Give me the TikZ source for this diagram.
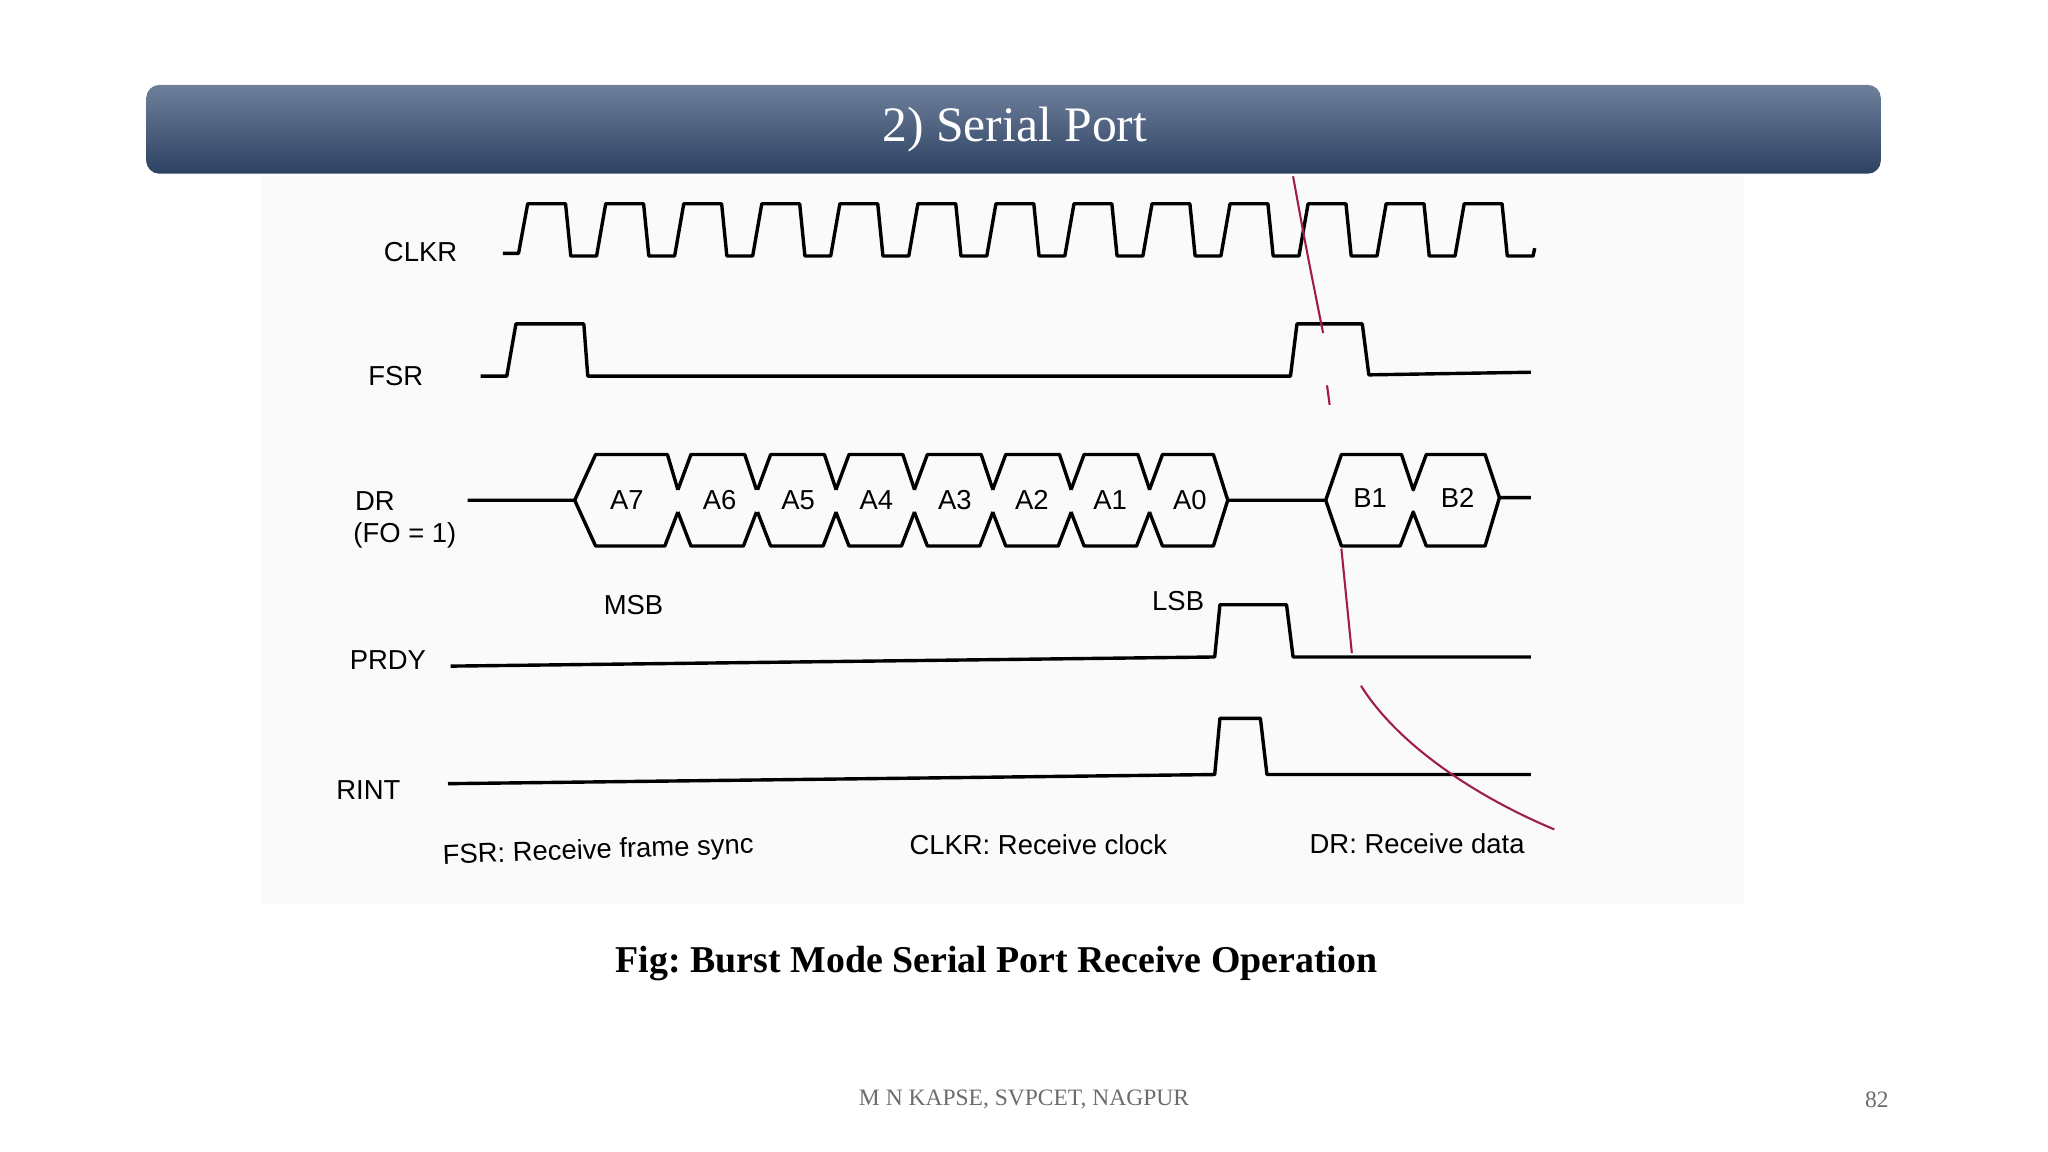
\documentclass[tikz,border=0pt]{standalone}
\usepackage{fontspec}
\setmainfont{Liberation Serif}
\setsansfont{Liberation Sans}
\frenchspacing
\begin{document}
\begin{tikzpicture}[x=0.5pt,y=-0.5pt,
  sig/.style={line width=1.3pt,line join=round},
  lab/.style={font=\sffamily\fontsize{10.5}{12}\selectfont},
  redline/.style={draw={rgb,255:red,160;green,30;blue,70},line width=0.8pt}]
\useasboundingbox (0,0) rectangle (1568,882);
\fill[white] (0,0) rectangle (1568,882);
\fill[gray!4] (200,135) rectangle (1335,692);
% title bar
\shade[top color={rgb,255:red,110;green,128;blue,155},bottom color={rgb,255:red,45;green,65;blue,98},rounded corners=5pt] (112,65) rectangle (1440,133);
\node[text=white,font=\fontsize{19}{22}\selectfont] (title) at (777,99) {2) Serial Port};
% labels
\node[lab] (clkr) at (322,193) {CLKR};
\node[lab] (fsr) at (303,288) {FSR};
\node[lab] (dr) at (287,384) {DR};
\node[lab] (fo) at (310,410) {(FO = 1)};
\node[lab] (prdy) at (297,505) {PRDY};
\node[lab] (rint) at (282,605) {RINT};
\node[lab] (msb) at (485,463) {MSB};
\node[lab] (lsb) at (902,460) {LSB};
% CLKR
\draw[sig] (385,194) -- (397,194)
  \foreach \i in {0,...,12} { -- ({397+59.75*\i+7},156) -- ({397+59.75*\i+36},156) -- ({397+59.75*\i+40},196) -- ({397+59.75*\i+59.75},196) }
  -- (1175,190);
% FSR
\draw[sig] (368,288) -- (388,288) -- (395,248) -- (447,248) -- (450,288) -- (988,288) -- (993,248) -- (1043,248) -- (1048,287) -- (1172,285);
% DR
\draw[sig] (358,383) -- (440,383) -- (456,348) -- (511,348) -- (519,375);
\draw[sig] (440,383) -- (456,418) -- (509,418) -- (519,392);
\foreach \c in {519,580,640,700,760,820} {
  \pgfmathsetmacro{\n}{\c+60.2}
  \draw[sig] (\c,375) -- (\c+10,348) -- (\n-9,348) -- (\n,375);
  \draw[sig] (\c,392) -- (\c+10,418) -- (\n-10,418) -- (\n,392);
}
\draw[sig] (880,375) -- (890,348) -- (929,348) -- (940,383) -- (929,418) -- (890,418) -- (880,392);
\draw[sig] (940,383) -- (1015,383) -- (1027,348) -- (1073,348) -- (1082,375) -- (1092,348) -- (1137,348) -- (1148,381) -- (1172,381);
\draw[sig] (1015,383) -- (1027,418) -- (1072,418) -- (1082,392) -- (1092,418) -- (1137,418) -- (1148,381);
\node[lab] (a7) at (480,383) {A7};
\node[lab] (a6) at (551,383) {A6};
\node[lab] (a5) at (611,383) {A5};
\node[lab] (a4) at (671,383) {A4};
\node[lab] (a3) at (731,383) {A3};
\node[lab] (a2) at (790,383) {A2};
\node[lab] (a1) at (850,383) {A1};
\node[lab] (a0) at (911,383) {A0};
\node[lab] (b1) at (1049,381) {B1};
\node[lab] (b2) at (1116,381) {B2};
% PRDY
\draw[sig] (345,510) -- (930,503) -- (934,463) -- (985,463) -- (990,503) -- (1172,503);
% RINT
\draw[sig] (343,600) -- (930,593) -- (934,550) -- (965,550) -- (970,593) -- (1172,593);
% red line
\draw[redline] (990,135) .. controls (1000,190) .. (1013,255);
\draw[redline] (1016,295) -- (1018,310);
\draw[redline] (1027,420) .. controls (1031,460) .. (1035,500);
\draw[redline] (1042,525) .. controls (1070,570) and (1130,610) .. (1190,635);
% bottom labels
\node[lab,rotate=2] (f1) at (458,652) {FSR: Receive frame sync};
\node[lab] (f2) at (795,647) {CLKR: Receive clock};
\node[lab] (f3) at (1085,646) {DR: Receive data};
\node[font=\bfseries\fontsize{14.5}{17}\selectfont] (cap) at (763,738) {Fig: Burst Mode Serial Port Receive Operation};
\node[text=gray!85!black,font=\fontsize{9}{11}\selectfont] (foot) at (784,842) {M N KAPSE, SVPCET, NAGPUR};
\node[text=gray!85!black,font=\fontsize{9}{11}\selectfont] (pg) at (1437,842) {82};
\end{tikzpicture}
\end{document}
